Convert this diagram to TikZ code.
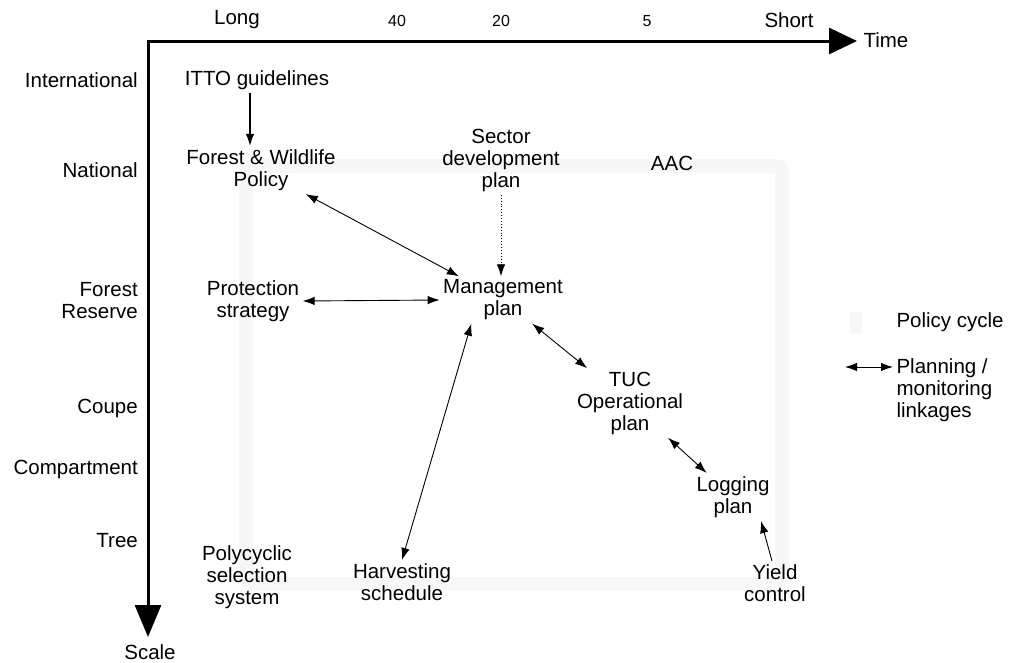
\documentclass[tikz,border=0pt]{standalone}
\usepackage{fontspec}
\setmainfont{Liberation Sans}
\usetikzlibrary{arrows.meta,calc}

\tikzset{
  lbl/.style={align=center,font=\fontsize{20.5}{22}\selectfont},
  lvl/.style={lbl,align=right,anchor=east,inner xsep=0pt},
  tck/.style={font=\fontsize{16}{18}\selectfont},
  link/.style={<->,line width=0.9pt},
  cycle band/.style={draw=black!3,line width=14pt,rounded corners=6pt}
}

\begin{document}
\begin{tikzpicture}[x=1pt,y=-1pt,>={Latex[length=12pt,width=8.5pt]}]
    \useasboundingbox (0,0) rectangle (1015,662);
    % faint policy cycle
    \draw [cycle band] (246,166) rectangle (782,584);
    \fill [black!3] (850,312) rectangle (862,334);
    % axes
    \coordinate (o) at (148,41);
    \coordinate (tend) at (857,41);
    \coordinate (send) at (148,637);
    \draw [{Triangle[length=32pt,width=26pt]}-{Triangle[length=28pt,width=26pt]},line width=3pt,line join=miter]
      (send) -- (o) -- (tend);
    \node [lbl,anchor=west] (time) at (860,40) {Time};
    \node [lbl] (scale) at (150,652) {Scale};
    \node [lbl] (long) at (237,20) {Long};
    \node [tck] (t40) at (397,21) {40};
    \node [tck] (t20) at (501,21) {20};
    \node [tck] (t5) at (647,21) {5};
    \node [lbl] (short) at (789,20) {Short};
    % scale levels
    \node [lvl] (intl) at (138,80) {International};
    \node [lvl] (natl) at (138,170) {National};
    \node [lvl] (fres) at (138,301) {Forest\\Reserve};
    \node [lvl] (coupe) at (138,408) {Coupe};
    \node [lvl] (comp) at (138,469) {Compartment};
    \node [lvl] (tree) at (138,541) {Tree};
    % plans
    \node [lbl] (itto) at (257,80) {ITTO guidelines};
    \node [lbl] (fwp) at (261,170) {Forest \& Wildlife\\Policy};
    \node [lbl] (sdp) at (501,160) {Sector\\development\\plan};
    \node [lbl] (aac) at (672,163) {AAC};
    \node [lbl] (mgp) at (503,300) {Management\\plan};
    \node [lbl] (prs) at (253,301) {Protection\\strategy};
    \node [lbl] (tuc) at (630,403) {TUC\\Operational\\plan};
    \node [lbl] (lgp) at (733,497) {Logging\\plan};
    \node [lbl] (ylc) at (775,583) {Yield\\control};
    \node [lbl] (pss) at (247,577) {Polycyclic\\selection\\system};
    \node [lbl] (hvs) at (402,582) {Harvesting\\schedule};
    % legend
    \node [lbl,anchor=west] (pcy) at (893,322) {Policy cycle};
    \node [lbl,anchor=west,align=left] (pml) at (893,390) {Planning /\\monitoring\\linkages};
    \coordinate (lgs) at (845,367);
    \draw [link] (lgs) -- (lgs -| pml.west);
    % links
    \draw [->,line width=1.4pt] ([xshift=-7pt]itto.south) -- ([xshift=-7pt]itto.south |- fwp.north);
    \draw [link] (fwp) -- (mgp);
    \draw [->,line width=0.9pt,dotted] (sdp.south) -- (sdp.south |- mgp.north);
    \draw [link] (prs.east) -- (mgp.west);
    \draw [link] (hvs.north) -- ($(mgp.south)!0.5!(mgp.south west)$);
    \draw [link] (mgp) -- (tuc);
    \draw [link] (tuc) -- (lgp);
    \draw [->,line width=0.9pt] ([xshift=-3pt]ylc.north) -- ([xshift=-12pt]lgp.south east);
\end{tikzpicture}
\end{document}
